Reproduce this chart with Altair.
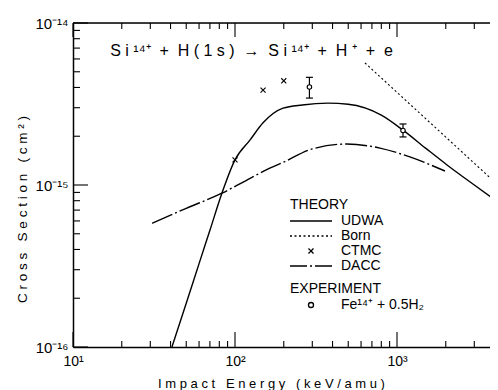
import altair as alt
import pandas as pd

FONT = "Liberation Sans"
NB = "\u00a0"

# ---------------- data ----------------
udwa_energy = [40.8, 50, 60, 70, 83, 100, 124, 149, 198, 260, 375, 500, 800, 1089, 1500, 2036, 3000, 4200]
udwa_sigma = [1.0e-16, 1.86e-16, 3.27e-16, 5.25e-16, 8.9e-16, 1.43e-15, 1.9e-15, 2.42e-15, 2.98e-15,
              3.12e-15, 3.2e-15, 3.15e-15, 2.7e-15, 2.18e-15, 1.69e-15, 1.33e-15, 1.0e-15, 7.85e-16]

born_energy = [634, 4200]
born_sigma = [5.67e-15, 1.0e-15]

dacc_energy = [30.8, 50, 83, 124, 164, 198, 300, 490, 785, 1200, 1977]
dacc_sigma = [5.8e-16, 7.18e-16, 8.9e-16, 1.1e-15, 1.27e-15, 1.38e-15, 1.67e-15, 1.79e-15, 1.69e-15, 1.49e-15, 1.22e-15]

ctmc_energy = [100, 149, 200]
ctmc_sigma = [1.43e-15, 3.85e-15, 4.4e-15]

exp_energy = [288, 1089]
exp_sigma = [4.03e-15, 2.17e-15]
exp_low = [3.44e-15, 1.98e-15]
exp_high = [4.62e-15, 2.38e-15]

theory_names = ["UDWA", "Born", "CTMC", "DACC"]
experiment_name = "Fe¹⁴⁺ + 0.5H₂"

x_major = [10, 100, 1000]
x_major_labels = ["10¹", "10²", "10³"]
x_minor = [20, 30, 40, 50, 60, 70, 80, 90, 200, 300, 400, 500, 600, 700, 800, 900, 2000, 3000]
y_major = [1e-16, 1e-15, 1e-14]
y_major_labels = ["10⁻¹⁶", "10⁻¹⁵", "10⁻¹⁴"]
y_minor = [2e-16, 3e-16, 4e-16, 5e-16, 6e-16, 7e-16, 8e-16, 9e-16,
           2e-15, 3e-15, 4e-15, 5e-15, 6e-15, 7e-15, 8e-15, 9e-15]

title_text = "Si¹⁴⁺ + H(1s) → Si¹⁴⁺ + H⁺ + e"
x_title = "Impact Energy (keV/amu)"
y_title = "Cross Section (cm²)"

# ---------------- layout ----------------
W, H = 417, 324
X_MAX = 3750
PAD = {"left": 65, "top": 15, "right": 0, "bottom": 43}
SUPS = set("¹²³⁴⁺⁻₂")


def spaced(s, gap=3):
    out = ""
    prev = None
    for ch in s:
        if ch == " ":
            out += NB * gap
            prev = " "
            continue
        if prev is not None and prev != " " and not (ch in SUPS and prev in SUPS):
            out += NB
        out += ch
        prev = ch
    return out


LINE = "M-3,0L3,0"
CROSS = "M-0.36,-0.36L0.36,0.36M-0.36,0.36L0.36,-0.36"
CIRCLE = "M-0.36,0A0.36,0.36,0,1,1,0.36,0A0.36,0.36,0,1,1,-0.36,0Z"

xscale = alt.Scale(type="log", domain=[10, X_MAX], nice=False)
yscale = alt.Scale(type="log", domain=[1e-16, 1e-14], nice=False)


def label_expr(values, labels):
    expr = "'" + labels[-1] + "'"
    for v, lab in reversed(list(zip(values[:-1], labels[:-1]))):
        expr = f"datum.value < {v * 3} ? '{lab}' : " + expr
    return expr


axis_style = dict(ticks=False, grid=False, domain=True, domainColor="black", domainWidth=1.5,
                  titleFontWeight="normal", titleFont=FONT, labelFont=FONT,
                  titleColor="black", labelColor="black")
xaxis = alt.Axis(values=x_major, labelExpr=label_expr(x_major, x_major_labels),
                 labelFontSize=14, labelPadding=7, labelFlush=False,
                 title=spaced(x_title), titleFontSize=13, titleX=198, titleY=40,
                 titleBaseline="alphabetic", titleAlign="center", **axis_style)
yaxis = alt.Axis(values=y_major, labelExpr=label_expr(y_major, y_major_labels),
                 labelFontSize=15, labelPadding=5, labelBaseline="middle",
                 title=spaced(y_title), titleFontSize=13.5, titleX=-47, titleY=186, titleAngle=270,
                 titleBaseline="alphabetic", titleAlign="center", **axis_style)


def X(f):
    return alt.X(f, scale=xscale, axis=xaxis)


def Y(f):
    return alt.Y(f, scale=yscale, axis=yaxis)


udwa = alt.Chart(pd.DataFrame({"e": udwa_energy, "s": udwa_sigma})).mark_line(
    color="black", strokeWidth=1.4, clip=True, interpolate="monotone"
).encode(x=X("e:Q"), y=Y("s:Q"))

born = alt.Chart(pd.DataFrame({"e": born_energy, "s": born_sigma})).mark_line(
    color="black", strokeWidth=1.1, strokeDash=[2, 2.5], clip=True
).encode(x=X("e:Q"), y=Y("s:Q"))

dacc = alt.Chart(pd.DataFrame({"e": dacc_energy, "s": dacc_sigma})).mark_line(
    color="black", strokeWidth=1.4, strokeDash=[22, 3, 2, 3], clip=True, interpolate="monotone"
).encode(x=X("e:Q"), y=Y("s:Q"))

ctmc = alt.Chart(pd.DataFrame({"e": ctmc_energy, "s": ctmc_sigma})).mark_point(
    shape=CROSS, size=196, filled=False, color="black", strokeWidth=1.1, opacity=1, clip=True
).encode(x=X("e:Q"), y=Y("s:Q"))

err = alt.Chart(pd.DataFrame({"e": exp_energy, "s": exp_low, "s2": exp_high})).mark_rule(
    color="black", strokeWidth=1.2
).encode(x=X("e:Q"), y=Y("s:Q"), y2="s2:Q")

caps = alt.Chart(pd.DataFrame({"e": exp_energy + exp_energy, "s": exp_low + exp_high})).mark_tick(
    orient="horizontal", size=7, thickness=1.2, color="black", opacity=1
).encode(x=X("e:Q"), y=Y("s:Q"))

expts = alt.Chart(pd.DataFrame({"e": exp_energy, "s": exp_sigma})).mark_point(
    shape="circle", size=20, filled=True, fill="white", stroke="black", strokeWidth=1.1, opacity=1
).encode(x=X("e:Q"), y=Y("s:Q"))


def tick_layer(values, side, length):
    if side in ("bottom", "top"):
        base = alt.Chart(pd.DataFrame({"e": values})).mark_rule(color="black", strokeWidth=1.1)
        if side == "bottom":
            return base.encode(x=X("e:Q"), y=alt.value(H), y2=alt.value(H - length))
        return base.encode(x=X("e:Q"), y=alt.value(0), y2=alt.value(length))
    base = alt.Chart(pd.DataFrame({"s": values})).mark_rule(color="black", strokeWidth=1.1)
    return base.encode(y=Y("s:Q"), x=alt.value(0), x2=alt.value(length))


ticks = [
    tick_layer(x_major, "bottom", 15), tick_layer(x_minor, "bottom", 6),
    tick_layer(x_major, "top", 14), tick_layer(x_minor, "top", 6),
    tick_layer(y_major, "left", 15), tick_layer(y_minor, "left", 7),
]

top_frame = alt.Chart(pd.DataFrame({"e": [10]})).mark_rule(color="black", strokeWidth=1.5).encode(
    x=alt.value(0), x2=alt.value(W), y=alt.value(0)
)

legend_common = dict(orient="none", padding=0, rowPadding=0, symbolSize=196, symbolOffset=13,
                     labelOffset=22, symbolStrokeWidth=1.3, symbolStrokeColor="black",
                     titleFontSize=14, labelFontSize=14, titleFont=FONT, labelFont=FONT,
                     titleFontWeight="normal", titleColor="black", labelColor="black",
                     titlePadding=1, legendX=217)

theory_legend = alt.Legend(title="THEORY", legendY=175, **legend_common)
exp_legend = alt.Legend(title="EXPERIMENT", legendY=259, **legend_common)

theory_key = alt.Chart(pd.DataFrame({"series": theory_names, "e": [1] * 4, "s": [1e-15] * 4})).mark_point(
    filled=False, color="black", size=196, strokeWidth=1.3, opacity=1, clip=True
).encode(
    x=X("e:Q"), y=Y("s:Q"),
    shape=alt.Shape("series:N", scale=alt.Scale(domain=theory_names, range=[LINE, LINE, CROSS, LINE]),
                    legend=theory_legend),
    strokeDash=alt.StrokeDash("series:N",
                              scale=alt.Scale(domain=theory_names,
                                              range=[[1, 0], [2, 2.5], [1, 0], [17, 3, 2, 3]]),
                              legend=theory_legend),
)

exp_key = alt.Chart(pd.DataFrame({"exp": [experiment_name], "e": [1], "s": [1e-15]})).mark_point(
    filled=False, shape=CIRCLE, size=196, strokeWidth=1.2, opacity=1, clip=True
).encode(
    x=X("e:Q"), y=Y("s:Q"),
    color=alt.Color("exp:N", scale=alt.Scale(domain=[experiment_name], range=["black"]), legend=exp_legend),
)

chart = alt.layer(
    udwa, born, dacc, ctmc, err, caps, expts, *ticks, top_frame, theory_key, exp_key
).properties(
    width=W, height=H, padding=PAD, autosize=alt.AutoSizeParams(type="none"),
    title=alt.TitleParams(text=spaced(title_text, 2), font=FONT, fontSize=16, fontWeight="normal",
                          color="black", anchor="middle", dx=-30, dy=47),
).configure_view(stroke="transparent").configure(background="white")

chart.save("out.html", embed_options={"renderer": "svg", "actions": False})
